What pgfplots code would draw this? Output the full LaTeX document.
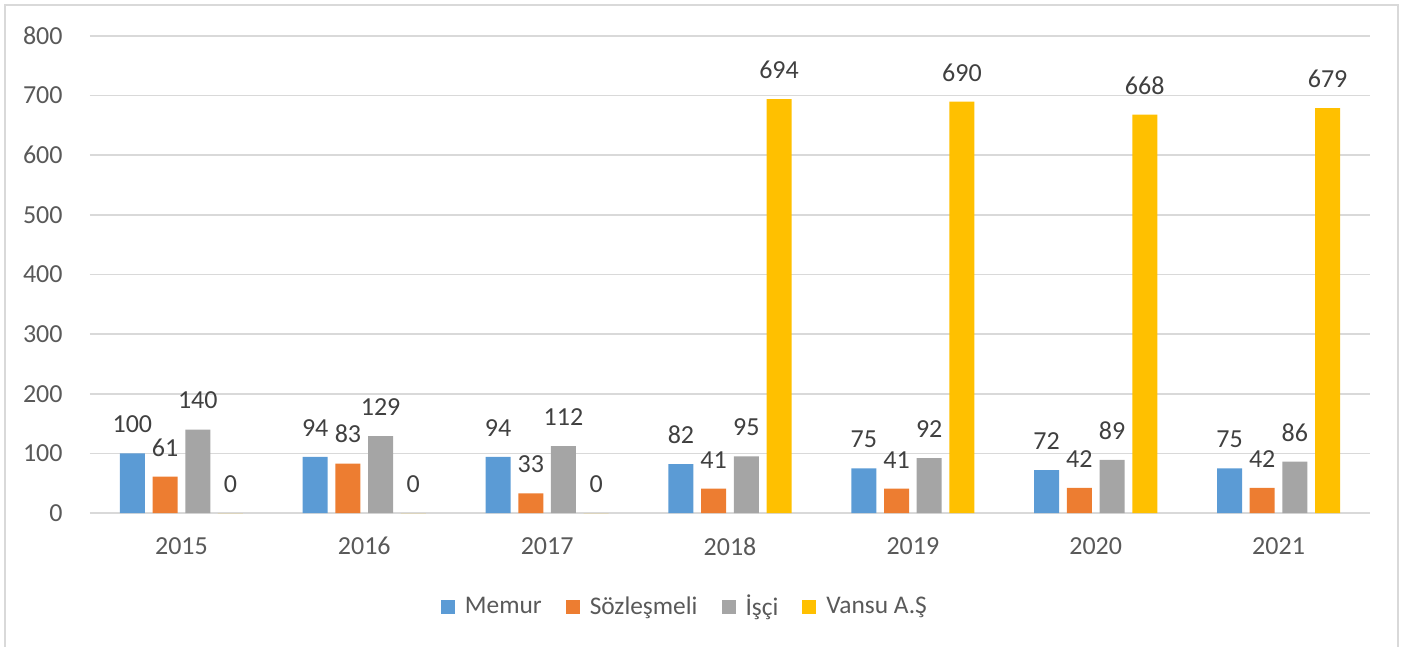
\documentclass[border=0pt]{standalone}
\usepackage{pgfplots}
\pgfplotsset{compat=1.18}
\usepackage{fontspec}
\setmainfont{Carlito}
\definecolor{cblue}{HTML}{5B9BD5}
\definecolor{corange}{HTML}{ED7D31}
\definecolor{cgray}{HTML}{A5A5A5}
\definecolor{cgold}{HTML}{FFC000}
\definecolor{gridc}{HTML}{D9D9D9}
\definecolor{tickc}{HTML}{595959}
\definecolor{labc}{HTML}{404040}
\begin{document}
\begin{tikzpicture}
\path[use as bounding box] (0pt,0pt) rectangle (704.5pt,-323.5pt);
\draw[gridc, line width=0.8pt] (2.5pt,-323.5pt) -- (2.5pt,-2.5pt) -- (699pt,-2.5pt) -- (699pt,-323.5pt);
\begin{axis}[
  at={(45pt,-256.5pt)}, anchor=south west,
  scale only axis, width=640pt, height=238.5pt,
  xmin=-0.5, xmax=6.5, ymin=0, ymax=800,
  ytick={0,100,...,800},
  xtick={0,...,6},
  xticklabels={2015,2016,2017,2018,2019,2020,2021},
  /pgf/number format/assume math mode=true,
  axis line style={draw=none},
  major tick length=0pt,
  ymajorgrids,
  major grid style={gridc, line width=0.8pt},
  ticklabel style={font=\fontsize{13}{15}\selectfont, color=tickc, inner sep=0pt},
  yticklabel style={anchor=east, xshift=-13.5pt},
  xticklabel style={anchor=north, yshift=-12pt},
  ybar=3.85pt, bar width=12.5pt,
  nodes near coords,
  every node near coord/.append style={font=\fontsize{13}{15}\selectfont, color=labc, inner sep=0pt, anchor=south, yshift=10pt},
  legend columns=4,
  legend image code/.code={\fill[#1] (0pt,-3.5pt) rectangle (7pt,3.5pt);},
  legend style={at={(0.464,-0.197)}, anchor=center, draw=none, fill=none,
    inner sep=0pt, font=\fontsize{12.7}{15}\selectfont, text=tickc,
    nodes={inner sep=0pt},
    /tikz/every odd column/.append style={column sep=5pt},
    /tikz/every even column/.append style={column sep=12pt}},
]
\addplot[fill=cblue, draw=none] coordinates {(0,100) (1,94) (2,94) (3,82) (4,75) (5,72) (6,75)};
\addplot[fill=corange, draw=none] coordinates {(0,61) (1,83) (2,33) (3,41) (4,41) (5,42) (6,42)};
\addplot[fill=cgray, draw=none] coordinates {(0,140) (1,129) (2,112) (3,95) (4,92) (5,89) (6,86)};
\addplot[fill=cgold, draw=none] coordinates {(0,0) (1,0) (2,0) (3,694) (4,690) (5,668) (6,679)};
\legend{Memur, Sözleşmeli, İşçi, Vansu A.Ş}
\end{axis}
\end{tikzpicture}
\end{document}
